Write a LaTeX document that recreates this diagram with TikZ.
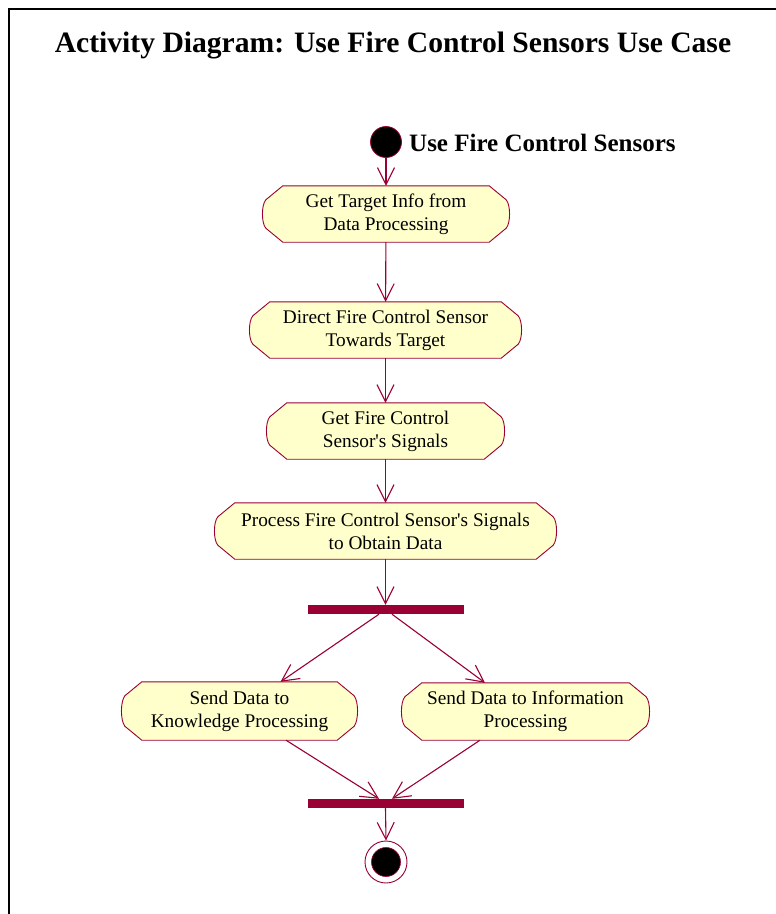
\documentclass[tikz,border=0pt]{standalone}
\usepackage{fontspec}
\setmainfont{Liberation Serif}
\usetikzlibrary{arrows.meta,calc,backgrounds}

\definecolor{umlred}{HTML}{990033}
\definecolor{umlfill}{HTML}{FFFFCC}

\tikzset{
  actnode/.style={rectangle, inner sep=0pt, align=center,
    font=\fontsize{19.3}{23}\selectfont},
  actline/.style={draw=umlred, fill=umlfill, line width=0.9pt, line join=round},
  flow/.style={draw=umlred, line width=1.1pt,
    -{Straight Barb[length=17pt, width=17pt, line width=1.1pt]}},
  syncbar/.style={rectangle, fill=umlred, inner sep=0pt,
    minimum width=156pt, minimum height=9pt},
}

% activity outline: chamfered corners with slightly bulging sides
\newcommand\actoutline[1]{%
  \draw[actline]
    ($(#1.north west)+(20pt,0)$) -- ($(#1.north east)+(-20pt,0)$)
    -- ($(#1.north east)+(-3pt,-14pt)$)
    .. controls ($(#1.east)+(1.5pt,9pt)$) and ($(#1.east)+(1.5pt,-9pt)$) ..
    ($(#1.south east)+(-3pt,14pt)$)
    -- ($(#1.south east)+(-20pt,0)$) -- ($(#1.south west)+(20pt,0)$)
    -- ($(#1.south west)+(3pt,14pt)$)
    .. controls ($(#1.west)+(-1.5pt,-9pt)$) and ($(#1.west)+(-1.5pt,9pt)$) ..
    ($(#1.north west)+(3pt,-14pt)$) -- cycle;%
}

\begin{document}
\begin{tikzpicture}[x=1pt, y=-1pt]
  \useasboundingbox (0,0) rectangle (776,914);

  % frame
  \draw[line width=1.6pt] (9,914) -- (9,9) -- (776,9);

  % title
  \node[font=\fontsize{29.6}{34}\selectfont\bfseries] (title) at (393,45)
    {Activity Diagram: Use Fire Control Sensors Use Case};

  % start state
  \node[circle, fill=black, draw=umlred, line width=0.8pt, minimum size=31pt,
    inner sep=0pt] (s) at (386,142) {};
  \node[anchor=west, font=\fontsize{25}{29}\selectfont\bfseries, inner sep=0pt]
    (slabel) at (409,143) {Use Fire Control Sensors};

  % activities
  \node[actnode, minimum width=246pt, minimum height=56pt] (a1) at (386,214)
    {Get Target Info from\\Data Processing};
  \node[actnode, minimum width=271pt, minimum height=56pt] (a2) at (385.5,330)
    {Direct Fire Control Sensor\\Towards Target};
  \node[actnode, minimum width=237pt, minimum height=56pt] (a3) at (385.5,431)
    {Get Fire Control\\Sensor\textquotesingle s Signals};
  \node[actnode, minimum width=341pt, minimum height=56pt] (a4) at (385.5,531)
    {Process Fire Control Sensor\textquotesingle s Signals\\to Obtain Data};
  \node[actnode, minimum width=235pt, minimum height=58pt] (a5) at (239.5,711)
    {Send Data to\\Knowledge Processing};
  \node[actnode, minimum width=247pt, minimum height=57pt] (a6) at (525.5,711.5)
    {Send Data to Information\\Processing};

  \begin{pgfonlayer}{background}
    \foreach \n in {a1,a2,a3,a4,a5,a6} {\actoutline{\n}}
  \end{pgfonlayer}

  % synchronisation bars
  \node[syncbar] (fork) at (385.5,609.5) {};
  \node[syncbar] (join) at (385.5,803.5) {};

  % final state
  \node[circle, draw=umlred, fill=white, line width=0.9pt, minimum size=42pt,
    inner sep=0pt] (e) at (386,862) {};
  \node[circle, fill=black, draw=umlred, line width=0.6pt, minimum size=29pt,
    inner sep=0pt] (ei) at (e) {};

  % flows
  \draw[flow] (s) -- (a1);
  \draw[flow] (a1) -- (a2);
  \draw[flow] (a2) -- (a3);
  \draw[flow] (a3) -- (a4);
  \draw[flow] (a4.south) -- (fork.north);
  \draw[flow] ($(fork.south)+(-6.5,0)$) -- ($(a5.north)+(41,0)$);
  \draw[flow] ($(fork.south)+(6.5,0)$) -- ($(a6.north)+(-40.5,0)$);
  \draw[flow] ($(a5.south)+(46.5,0)$) -- ($(join.north)+(-6.5,0)$);
  \draw[flow] ($(a6.south)+(-45.5,0)$) -- ($(join.north)+(6.5,0)$);
  \draw[flow] (join.south) -- (e.north);
\end{tikzpicture}
\end{document}
